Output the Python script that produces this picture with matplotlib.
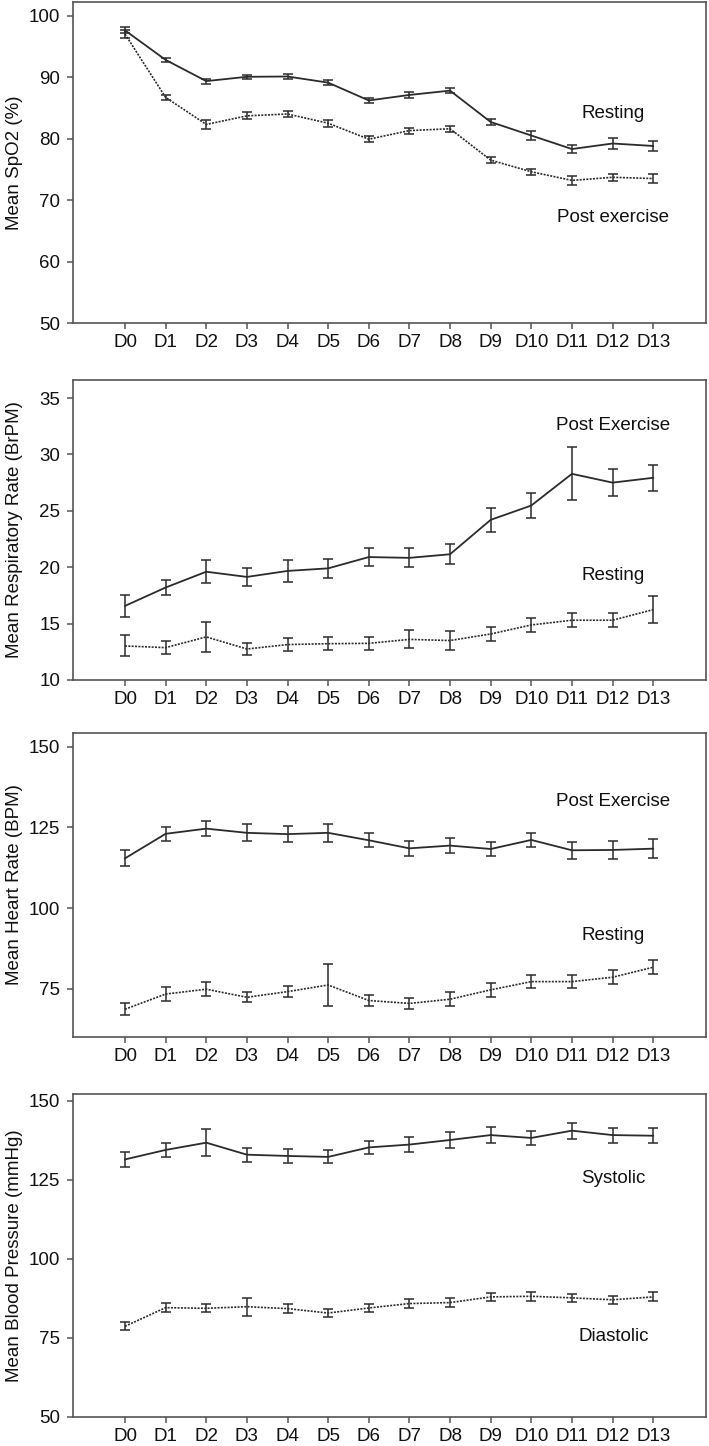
import matplotlib.pyplot as plt
import numpy as np

plt.rcParams['font.family'] = ['Liberation Sans', 'DejaVu Sans']

days = ['D0', 'D1', 'D2', 'D3', 'D4', 'D5', 'D6', 'D7', 'D8', 'D9', 'D10', 'D11', 'D12', 'D13']

# SpO2 (%)
spo2_rest = [97.6, 92.8, 89.35, 90.05, 90.1, 89.1, 86.2, 87.1, 87.8, 82.7, 80.5, 78.3, 79.2, 78.8]
spo2_rest_err = [0.5, 0.3, 0.4, 0.35, 0.35, 0.4, 0.45, 0.45, 0.45, 0.5, 0.75, 0.7, 0.85, 0.85]
spo2_post = [97.0, 86.7, 82.3, 83.7, 84.0, 82.5, 79.9, 81.3, 81.6, 76.5, 74.6, 73.2, 73.7, 73.5]
spo2_post_err = [0.6, 0.4, 0.7, 0.55, 0.5, 0.55, 0.5, 0.5, 0.5, 0.55, 0.5, 0.7, 0.6, 0.75]

# Respiratory rate (BrPM)
rr_post = [16.57, 18.2, 19.6, 19.14, 19.67, 19.9, 20.9, 20.83, 21.15, 24.2, 25.47, 28.28, 27.5, 27.93]
rr_post_err = [1.0, 0.67, 1.0, 0.8, 1.0, 0.85, 0.8, 0.85, 0.87, 1.06, 1.12, 2.34, 1.17, 1.17]
rr_rest = [13.02, 12.87, 13.82, 12.75, 13.14, 13.22, 13.25, 13.6, 13.5, 14.08, 14.88, 15.3, 15.3, 16.24]
rr_rest_err = [0.93, 0.55, 1.3, 0.52, 0.56, 0.55, 0.56, 0.8, 0.86, 0.58, 0.6, 0.62, 0.62, 1.18]

# Heart rate (BPM)
hr_post = [115.4, 123.0, 124.6, 123.3, 122.9, 123.3, 121.0, 118.5, 119.35, 118.3, 121.1, 117.9, 118.0, 118.4]
hr_post_err = [2.5, 2.2, 2.4, 2.6, 2.4, 2.7, 2.1, 2.3, 2.2, 2.2, 2.3, 2.6, 2.8, 2.9]
hr_rest = [68.7, 73.4, 74.9, 72.4, 74.15, 76.2, 71.4, 70.5, 71.8, 74.7, 77.25, 77.25, 78.6, 81.7]
hr_rest_err = [1.8, 2.1, 2.1, 1.6, 1.8, 6.6, 1.65, 1.8, 2.1, 2.1, 2.1, 2.0, 2.1, 2.1]

# Blood pressure (mmHg)
bp_sys = [131.4, 134.4, 136.7, 132.9, 132.5, 132.2, 135.2, 136.1, 137.55, 139.1, 138.2, 140.5, 139.1, 138.9]
bp_sys_err = [2.5, 2.1, 4.2, 2.2, 2.3, 2.05, 2.1, 2.3, 2.4, 2.6, 2.3, 2.5, 2.4, 2.3]
bp_dia = [78.6, 84.5, 84.3, 84.8, 84.2, 82.8, 84.4, 85.8, 86.1, 87.9, 88.1, 87.6, 87.0, 87.9]
bp_dia_err = [1.3, 1.4, 1.3, 2.8, 1.3, 1.25, 1.4, 1.3, 1.5, 1.3, 1.4, 1.3, 1.3, 1.4]

panels = [
    dict(ylabel='Mean SpO2 (%)', ylim=(50, 102.3), yticks=[50, 60, 70, 80, 90, 100],
         solid=(spo2_rest, spo2_rest_err), dotted=(spo2_post, spo2_post_err),
         labels=[('Resting', 84.1), ('Post exercise', 67.2)], px=(1.5, 323)),
    dict(ylabel='Mean Respiratory Rate (BrPM)', ylim=(10, 36.6), yticks=[10, 15, 20, 25, 30, 35],
         solid=(rr_post, rr_post_err), dotted=(rr_rest, rr_rest_err),
         labels=[('Post Exercise', 32.6), ('Resting', 19.26)], px=(380, 680)),
    dict(ylabel='Mean Heart Rate (BPM)', ylim=(60.2, 154.2), yticks=[75, 100, 125, 150],
         solid=(hr_post, hr_post_err), dotted=(hr_rest, hr_rest_err),
         labels=[('Post Exercise', 133), ('Resting', 91.5)], px=(733, 1036.7)),
    dict(ylabel='Mean Blood Pressure (mmHg)', ylim=(50, 152.1), yticks=[50, 75, 100, 125, 150],
         solid=(bp_sys, bp_sys_err), dotted=(bp_dia, bp_dia_err),
         labels=[('Systolic', 125.4), ('Diastolic', 75.5)], px=(1094, 1416.7)),
]

W, H = 709, 1446
fig = plt.figure(figsize=(W / 100, H / 100), dpi=100)
x = np.arange(len(days))
line_col = '#2b2b2b'
spine_col = '#555555'
txt_col = '#111111'

for p in panels:
    top, bot = p['px']
    ax = fig.add_axes([73 / W, 1 - bot / H, 633 / W, (bot - top) / H])
    vals, err = p['solid']
    ax.errorbar(x, vals, yerr=err, color=line_col, lw=1.3, capsize=3.8,
                elinewidth=1.1, capthick=1.1)
    vals, err = p['dotted']
    ax.errorbar(x, vals, yerr=err, color=line_col, lw=1.2, ls=(0, (1.2, 0.8)),
                capsize=3.8, elinewidth=1.1, capthick=1.1)
    for txt, yv in p['labels']:
        ax.text(12.02, yv, txt, ha='center', va='center', fontsize=13.5, color=txt_col)
    ax.set_xlim(-1.28, 14.3)
    ax.set_ylim(*p['ylim'])
    ax.set_yticks(p['yticks'])
    ax.set_xticks(x)
    ax.set_xticklabels(days)
    ax.tick_params(labelsize=13.5, length=4.5, width=1.1, color=spine_col,
                   labelcolor=txt_col, direction='out')
    ax.tick_params(axis='x', pad=3.5)
    ax.tick_params(axis='y', pad=4.5)
    for s in ax.spines.values():
        s.set_color(spine_col)
        s.set_linewidth(1.2)
    fig.text(15 / W, 1 - (top + bot) / 2 / H, p['ylabel'], rotation=90,
             ha='center', va='center', fontsize=13.5, color=txt_col)

fig.savefig('out.png', dpi=100)
